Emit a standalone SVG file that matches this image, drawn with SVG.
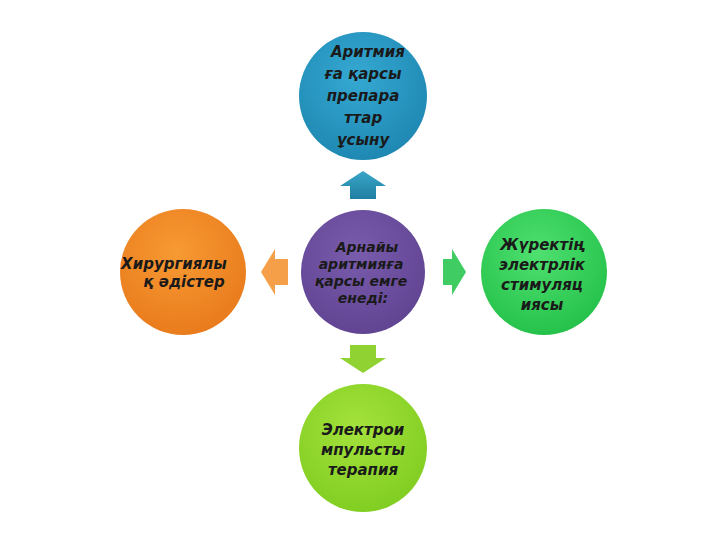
<svg xmlns="http://www.w3.org/2000/svg" width="720" height="540" viewBox="0 0 720 540">
<defs>
<radialGradient id="gBlue" cx="45%" cy="35%" r="70%"><stop offset="0" stop-color="#35a9d3"/><stop offset="1" stop-color="#1d86b0"/></radialGradient>
<radialGradient id="gPurple" cx="45%" cy="35%" r="70%"><stop offset="0" stop-color="#7a5cad"/><stop offset="1" stop-color="#5f4290"/></radialGradient>
<radialGradient id="gOrange" cx="45%" cy="35%" r="70%"><stop offset="0" stop-color="#f79a34"/><stop offset="1" stop-color="#e8791a"/></radialGradient>
<radialGradient id="gGreen" cx="45%" cy="35%" r="70%"><stop offset="0" stop-color="#4fe070"/><stop offset="1" stop-color="#22c048"/></radialGradient>
<radialGradient id="gLime" cx="45%" cy="35%" r="70%"><stop offset="0" stop-color="#a4e23c"/><stop offset="1" stop-color="#7fcc20"/></radialGradient>
<linearGradient id="aBlue" x1="0" y1="0" x2="0" y2="1"><stop offset="0" stop-color="#3aa6c8"/><stop offset="1" stop-color="#1f7fa2"/></linearGradient>
</defs>
<style>
text{font-family:"DejaVu Sans","Liberation Sans",sans-serif;font-style:italic;font-weight:bold;fill:#1a1a1a;text-anchor:middle}
.t16{font-size:15px}
.t14{font-size:14px}
</style>
<rect width="720" height="540" fill="#ffffff"/>
<g id="connectors">
<polygon points="363,171 386,186 376,186 376,199 350,199 350,186 340,186" fill="url(#aBlue)"/>
<polygon points="261,272 275,249 275,259 288,259 288,285 275,285 275,295" fill="#f5a048"/>
<polygon points="466,272 452,249 452,259 443,259 443,285 452,285 452,295" fill="#3fcc62"/>
<polygon points="363,373 386,358 376,358 376,345 350,345 350,358 340,358" fill="#8fd232"/>
</g>
<g id="top">
<circle cx="363" cy="96" r="64" fill="url(#gBlue)"/>
<text class="t16" x="368" y="57">Аритмия</text>
<text class="t16" x="363" y="79">ға қарсы</text>
<text class="t16" x="363" y="101">препара</text>
<text class="t16" x="363" y="123">ттар</text>
<text class="t16" x="363" y="145">ұсыну</text>
</g>
<g id="center">
<circle cx="363" cy="272" r="62" fill="url(#gPurple)"/>
<text class="t14" x="367" y="252">Арнайы</text>
<text class="t14" x="361" y="269">аритмияға</text>
<text class="t14" x="361" y="286">қарсы емге</text>
<text class="t14" x="363" y="303">енеді:</text>
</g>
<g id="left">
<circle cx="183" cy="272" r="63" fill="url(#gOrange)"/>
<text class="t16" x="174" y="269">Хирургиялы</text>
<text class="t16" x="184" y="287">қ әдістер</text>
</g>
<g id="right">
<circle cx="544" cy="272" r="63" fill="url(#gGreen)"/>
<text class="t16" x="542" y="250">Жүректің</text>
<text class="t16" x="542" y="270">электрлік</text>
<text class="t16" x="542" y="290">стимуляц</text>
<text class="t16" x="542" y="310">иясы</text>
</g>
<g id="bottom">
<circle cx="363" cy="448" r="64" fill="url(#gLime)"/>
<text class="t16" x="363" y="435">Электрои</text>
<text class="t16" x="363" y="455">мпульсты</text>
<text class="t16" x="363" y="475">терапия</text>
</g>
</svg>
